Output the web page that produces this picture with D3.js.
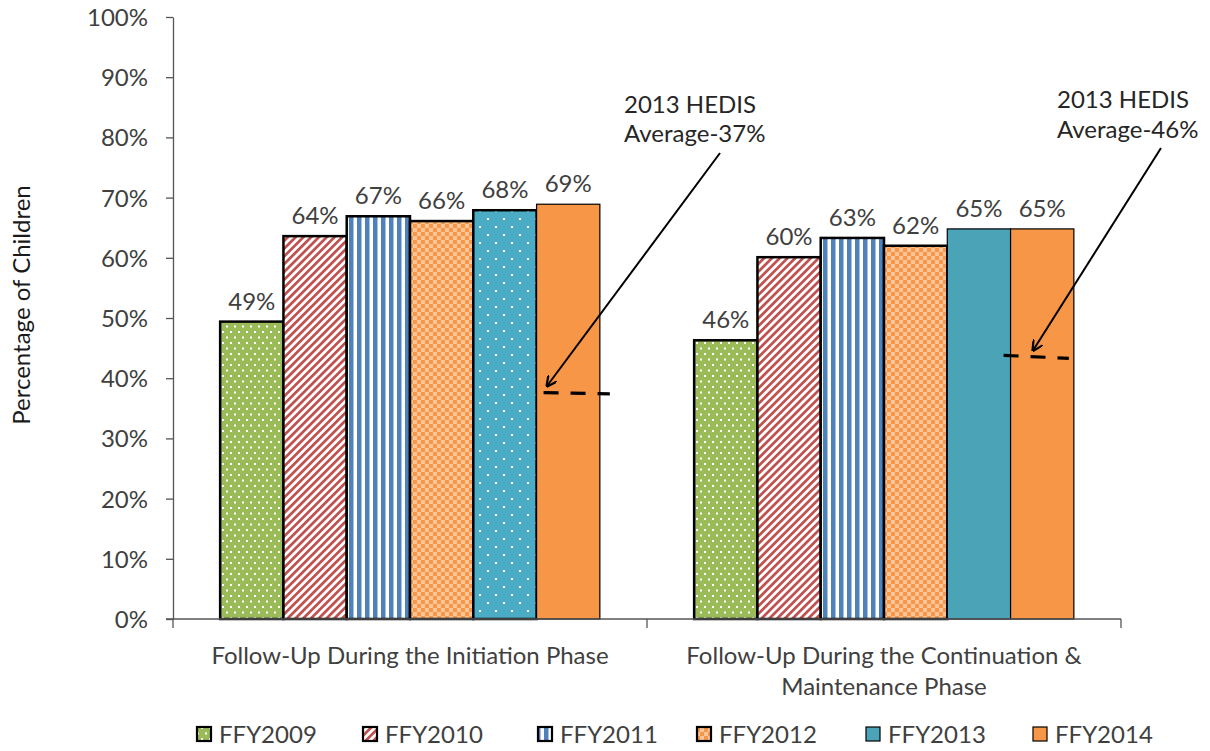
<!DOCTYPE html>
<html><head><meta charset="utf-8">
<script src="https://cdn.jsdelivr.net/npm/d3@7"></script>
<style>
html,body{margin:0;padding:0;background:#fff;}
svg text{font-family:Lato,"Open Sans",sans-serif;fill:#404040;}
</style></head>
<body><svg id="c" width="1210" height="751"></svg>
<script>
const groups = ["Follow-Up During the Initiation Phase", "Follow-Up During the Continuation & Maintenance Phase"];
const groupLabelLines = [["Follow-Up During the Initiation Phase"], ["Follow-Up During the Continuation &", "Maintenance Phase"]];
const series = ["FFY2009", "FFY2010", "FFY2011", "FFY2012", "FFY2013", "FFY2014"];
const valuesInitiation = [49.4, 63.6, 66.9, 66.1, 67.9, 68.9];
const valuesContinuation = [46.3, 60.1, 63.3, 62.0, 64.8, 64.8];
const labelsInitiation = ["49%", "64%", "67%", "66%", "68%", "69%"];
const labelsContinuation = ["46%", "60%", "63%", "62%", "65%", "65%"];
const yTicks = [0, 10, 20, 30, 40, 50, 60, 70, 80, 90, 100];
const hedisLabels = [["2013 HEDIS", "Average-37%"], ["2013 HEDIS", "Average-46%"]];
const hedisLeft = [37.6, 43.8];
const hedisRight = [37.4, 43.3];

const FS = "24px";
const svg = d3.select("#c");
const x0 = d3.scaleBand().domain(groups).range([173, 1121]).paddingInner(0).paddingOuter(0);
const x1 = d3.scaleBand().domain(series).range([0, x0.bandwidth()]).paddingInner(0).paddingOuter(0.745);
const y = d3.scaleLinear().domain([0, 100]).range([619, 17]);

// patterns
const defs = svg.append("defs");
function pat(id, w, h, build, transform) {
  const p = defs.append("pattern").attr("id", id).attr("patternUnits", "userSpaceOnUse").attr("width", w).attr("height", h);
  if (transform) p.attr("patternTransform", transform);
  build(p);
}
pat("p2009", 8, 11, p => {
  p.append("rect").attr("width", 8).attr("height", 11).attr("fill", "#9BBB59");
  p.append("rect").attr("x", 1).attr("y", 1).attr("width", 2).attr("height", 2).attr("fill", "#fff");
  p.append("rect").attr("x", 5).attr("y", 6.5).attr("width", 2).attr("height", 2).attr("fill", "#fff");
});
pat("p2010", 5.5, 5.5, p => {
  p.append("rect").attr("width", 5.5).attr("height", 5.5).attr("fill", "#fff");
  p.append("rect").attr("width", 2.7).attr("height", 5.5).attr("fill", "#C0504D");
}, "rotate(45)");
pat("p2011", 8, 8, p => {
  p.append("rect").attr("width", 8).attr("height", 8).attr("fill", "#fff");
  p.append("rect").attr("width", 4.5).attr("height", 8).attr("fill", "#4F81BD");
});
pat("p2012", 8, 8, p => {
  p.append("rect").attr("width", 8).attr("height", 8).attr("fill", "#fff");
  p.append("rect").attr("width", 4).attr("height", 4).attr("fill", "#F79646");
  p.append("rect").attr("x", 4).attr("y", 4).attr("width", 4).attr("height", 4).attr("fill", "#F79646");
  p.append("rect").attr("x", 4).attr("y", 0).attr("width", 4).attr("height", 4).attr("fill", "#FBC59A");
  p.append("rect").attr("x", 0).attr("y", 4).attr("width", 4).attr("height", 4).attr("fill", "#FBC59A");
});
pat("p2013", 16, 16, p => {
  p.append("rect").attr("width", 16).attr("height", 16).attr("fill", "#4BACC6");
  p.append("rect").attr("x", 2).attr("y", 2).attr("width", 2).attr("height", 2).attr("fill", "#fff");
  p.append("rect").attr("x", 10).attr("y", 10).attr("width", 2).attr("height", 2).attr("fill", "#fff");
});

const fillsInitiation = ["url(#p2009)", "url(#p2010)", "url(#p2011)", "url(#p2012)", "url(#p2013)", "#F79646"];
const fillsContinuation = ["url(#p2009)", "url(#p2010)", "url(#p2011)", "url(#p2012)", "#4BA3B8", "#F79646"];
const legendFills = ["url(#p2009)", "url(#p2010)", "url(#p2011)", "url(#p2012)", "#4BA3B8", "#F79646"];
const strokeW = [2.5, 2.5, 2.5, 2.5, 2.5, 1.2];
const strokeWCont = [2.5, 2.5, 2.5, 2.5, 1.2, 1.2];

const data = [
  {g: groups[0], vals: valuesInitiation, labels: labelsInitiation, fills: fillsInitiation, sw: strokeW},
  {g: groups[1], vals: valuesContinuation, labels: labelsContinuation, fills: fillsContinuation, sw: strokeWCont}
];

// axes
const yAxis = d3.axisLeft(y).tickValues(yTicks).tickFormat(d => d + "%").tickSize(7).tickSizeOuter(0);
const ya = svg.append("g").attr("transform", "translate(173,0)").call(yAxis);
ya.select(".domain").attr("stroke", "#555").attr("stroke-width", 1.3);
ya.selectAll(".tick line").attr("stroke", "#555").attr("stroke-width", 1.3);
ya.selectAll(".tick text").attr("x", -25).attr("dy", "0.35em").style("font-size", FS).attr("fill", "#404040").style("font-family", "Lato, sans-serif");

// bars
data.forEach(d => {
  const g = svg.append("g").attr("transform", `translate(${x0(d.g)},0)`);
  g.selectAll("rect").data(series).join("rect")
    .attr("x", s => x1(s)).attr("width", x1.bandwidth())
    .attr("y", (s, i) => y(d.vals[i])).attr("height", (s, i) => y(0) - y(d.vals[i]))
    .attr("fill", (s, i) => d.fills[i]).attr("stroke", "#000").attr("stroke-width", (s, i) => d.sw[i]);
  g.selectAll("text.lab").data(series).join("text").attr("class", "lab")
    .attr("x", s => x1(s) + x1.bandwidth() / 2).attr("y", (s, i) => y(d.vals[i]) - 12)
    .attr("text-anchor", "middle").style("font-size", FS).text((s, i) => d.labels[i]);
});

// x axis
const xa = svg.append("g");
xa.append("line").attr("x1", 166).attr("x2", x0.range()[1]).attr("y1", y(0)).attr("y2", y(0)).attr("stroke", "#555").attr("stroke-width", 1.3);
const xTicks = [x0(groups[0]), x0(groups[1]), x0.range()[1]];
xa.selectAll("line.t").data(xTicks).join("line").attr("class", "t")
  .attr("x1", d => d).attr("x2", d => d).attr("y1", y(0)).attr("y2", y(0) + 9).attr("stroke", "#555").attr("stroke-width", 1.3);
groupLabelLines.forEach((lines, gi) => {
  lines.forEach((t, li) => {
    svg.append("text").attr("x", x0(groups[gi]) + x0.bandwidth() / 2).attr("y", 664 + li * 31)
      .attr("text-anchor", "middle").style("font-size", FS).text(t);
  });
});

// y title
svg.append("text").attr("transform", "translate(30,305) rotate(-90)").attr("text-anchor", "middle")
  .style("font-size", FS).style("fill", "#1a1a1a").text("Percentage of Children");

// HEDIS annotations
defs.append("marker").attr("id", "arr").attr("viewBox", "0 0 10 10").attr("refX", 9).attr("refY", 5)
  .attr("markerWidth", 11).attr("markerHeight", 11).attr("orient", "auto").attr("markerUnits", "userSpaceOnUse")
  .append("path").attr("d", "M0,0 L10,5 L0,10").attr("fill", "none").attr("stroke", "#000").attr("stroke-width", 2);
const lastBand = series[5];
const ann = [
  {gi: 0, lx1: x1(lastBand) + 7, lx2: x1(lastBand) + x1.bandwidth() + 10, tx: 451, ty: [113, 142], ax1: 547, ay1: 153, ax2: 374, ay: 38.7},
  {gi: 1, lx1: x1(lastBand) - 7, lx2: x1(lastBand) + x1.bandwidth() - 5, tx: 410, ty: [108, 138], ax1: 514, ay1: 148, ax2: 386, ay: 44.6}
];
ann.forEach((a, i) => {
  const ox = x0(groups[a.gi]);
  svg.append("line").attr("x1", ox + a.lx1).attr("x2", ox + a.lx2)
    .attr("y1", y(hedisLeft[i])).attr("y2", y(hedisRight[i]))
    .attr("stroke", "#000").attr("stroke-width", 3.2).attr("stroke-dasharray", "15,12");
  hedisLabels[i].forEach((t, li) => {
    svg.append("text").attr("x", ox + a.tx).attr("y", a.ty[li]).style("font-size", FS).style("fill", "#262626").text(t);
  });
  svg.append("line").attr("x1", ox + a.ax1).attr("y1", a.ay1).attr("x2", ox + a.ax2).attr("y2", y(a.ay))
    .attr("stroke", "#000").attr("stroke-width", 2).attr("marker-end", "url(#arr)");
});

// legend
const legendX = [197, 363, 538, 697, 866, 1033];
const lg = svg.append("g");
series.forEach((s, i) => {
  lg.append("rect").attr("x", legendX[i]).attr("y", 727).attr("width", 14).attr("height", 14)
    .attr("fill", legendFills[i]).attr("stroke", "#000").attr("stroke-width", i < 4 ? 2.2 : 1.2);
  lg.append("text").attr("x", legendX[i] + 22).attr("y", 743).style("font-size", FS).text(s);
});
</script></body></html>
